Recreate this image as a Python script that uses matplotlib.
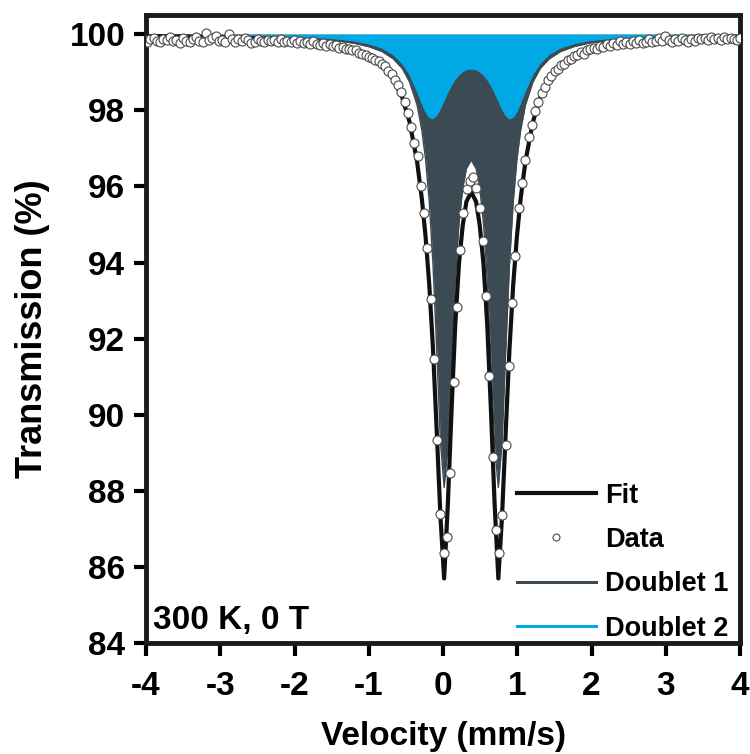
import numpy as np
import matplotlib
matplotlib.use("Agg")
import matplotlib.pyplot as plt
from matplotlib.lines import Line2D

plt.rcParams["font.family"] = ["Liberation Sans", "DejaVu Sans"]
plt.rcParams["axes.unicode_minus"] = False

# measured spectrum: channel velocity calibration and transmission per channel
V_START = -4.029
V_STEP = 0.0439
DATA_T = [
    99.88, 99.80, 99.86, 99.91, 99.83, 99.78, 99.87, 99.84, 99.92, 99.81,
    99.85, 99.77, 99.89, 99.83, 99.80, 99.86, 99.93, 99.82, 99.79, 100.02,
    99.84, 99.90, 99.95, 99.81, 99.85, 99.78, 99.99, 99.88, 99.80, 99.86,
    99.82, 99.89, 99.84, 99.76, 99.80, 99.87, 99.83, 99.79, 99.85, 99.81,
    99.84, 99.80, 99.88, 99.78, 99.83, 99.79, 99.85, 99.77, 99.82, 99.76,
    99.78, 99.74, 99.81, 99.75, 99.72, 99.77, 99.70, 99.73, 99.68, 99.71,
    99.64, 99.67, 99.60, 99.62, 99.57, 99.58, 99.50, 99.48, 99.44, 99.40,
    99.36, 99.33, 99.29, 99.22, 99.15, 99.04, 98.95, 98.80, 98.66, 98.47,
    98.22, 97.93, 97.55, 97.15,
    96.81, 96.02, 95.31, 94.37, 93.04, 91.46, 89.33, 87.39, 86.38, 86.78,
    88.47, 90.87, 92.83, 94.33, 95.30, 95.93, 96.13, 96.24, 95.96, 95.43,
    94.57, 93.13, 91.03, 88.89, 86.97, 86.37, 87.37, 89.21, 91.29, 92.93,
    94.18, 95.43, 96.10, 96.68,
    97.30, 97.62, 97.98, 98.21, 98.45, 98.62, 98.80, 98.90, 99.02, 99.08,
    99.19, 99.22, 99.32, 99.35, 99.43, 99.44, 99.52, 99.49, 99.58, 99.61,
    99.64, 99.60, 99.70, 99.66, 99.73, 99.69, 99.76, 99.72, 99.82, 99.75,
    99.79, 99.73, 99.81, 99.77, 99.84, 99.76, 99.80, 99.86, 99.78, 99.83,
    99.89, 99.81, 99.96, 99.84, 99.79, 99.87, 99.82, 99.90, 99.85, 99.80,
    99.88, 99.83, 99.91, 99.86, 99.89, 99.84, 99.92, 99.87, 99.90, 99.85,
    99.93, 99.88, 99.91, 99.86, 99.84, 99.89,
]

# fitted curves
CURVE_V = [
    -4.0, -3.25, -2.65, -2.15, -1.75, -1.45, -1.2, -1.0, -0.82, -0.67,
    -0.55, -0.45, -0.35, -0.285, -0.235, -0.185, -0.135, -0.085, -0.035, 0.015,
    0.065, 0.115, 0.165, 0.215, 0.265, 0.315, 0.38, 0.445, 0.495, 0.545,
    0.595, 0.645, 0.695, 0.745, 0.795, 0.845, 0.895, 0.945, 0.995, 1.045,
    1.11, 1.21, 1.31, 1.43, 1.58, 1.76, 1.96, 2.21, 2.51, 2.91,
    3.41, 4.01,
]
DOUBLET1_T = [
    99.97, 99.96, 99.94, 99.92, 99.88, 99.83, 99.76, 99.67, 99.54, 99.35,
    99.10, 98.74, 98.14, 97.47, 96.71, 95.59, 93.95, 91.71, 89.29, 88.09,
    89.16, 91.46, 93.56, 95.03, 95.95, 96.47, 96.69, 96.47, 95.95, 95.03,
    93.56, 91.46, 89.16, 88.09, 89.29, 91.71, 93.95, 95.59, 96.71, 97.47,
    98.14, 98.74, 99.10, 99.35, 99.54, 99.67, 99.76, 99.83, 99.88, 99.92,
    99.94, 99.96,
]
DOUBLET2_T = [
    99.98, 99.97, 99.96, 99.94, 99.92, 99.88, 99.83, 99.75, 99.64, 99.47,
    99.24, 98.95, 98.52, 98.20, 97.97, 97.82, 97.78, 97.87, 98.05, 98.27,
    98.48, 98.67, 98.82, 98.94, 99.02, 99.07, 99.09, 99.07, 99.02, 98.94,
    98.82, 98.67, 98.48, 98.27, 98.05, 97.87, 97.78, 97.82, 97.97, 98.20,
    98.52, 98.95, 99.24, 99.47, 99.64, 99.75, 99.83, 99.88, 99.92, 99.94,
    99.96, 99.97,
]
FIT_T = [
    99.95, 99.93, 99.90, 99.86, 99.79, 99.71, 99.59, 99.42, 99.18, 98.82,
    98.34, 97.69, 96.66, 95.67, 94.68, 93.41, 91.73, 89.58, 87.34, 85.70,
    87.65, 90.13, 92.38, 93.97, 94.97, 95.60, 95.85, 95.60, 94.97, 93.97,
    92.38, 90.13, 87.65, 85.70, 87.34, 89.58, 91.73, 93.41, 94.68, 95.67,
    96.66, 97.69, 98.34, 98.82, 99.18, 99.42, 99.59, 99.71, 99.79, 99.86,
    99.90, 99.93,
]

COLOR_D1 = "#3c4a54"
COLOR_D2 = "#00a9e6"


def main() -> None:
    velocity = V_START + V_STEP * np.arange(len(DATA_T))
    cv = np.array(CURVE_V)

    fig = plt.figure(figsize=(7.5, 7.54), dpi=100)
    ax = fig.add_axes([0.1947, 0.147, 0.792, 0.833])

    ax.fill_between(cv, DOUBLET1_T, 100, color=COLOR_D1, lw=0, zorder=1)
    ax.plot(cv, DOUBLET1_T, color=COLOR_D1, lw=1.0, zorder=1)
    ax.fill_between(cv, DOUBLET2_T, 100, color=COLOR_D2, lw=0, zorder=2)
    ax.plot(cv, DOUBLET2_T, color=COLOR_D2, lw=1.0, zorder=2)
    ax.plot(cv, FIT_T, color="#111111", lw=3.0, zorder=3)
    ax.plot(velocity, DATA_T, "o", ms=6.5, mfc="white", mec="#4a4a4a", mew=0.8,
            zorder=4)

    ax.set_xlim(-4, 4)
    ax.set_ylim(84, 100.5)
    ax.set_xticks(range(-4, 5))
    ax.set_yticks(range(84, 101, 2))
    ax.tick_params(direction="out", length=9, width=3, labelsize=24)
    ax.tick_params(axis="x", pad=11)
    ax.tick_params(axis="y", pad=6)
    for lab in ax.get_xticklabels() + ax.get_yticklabels():
        lab.set_fontweight("bold")
    for sp in ax.spines.values():
        sp.set_linewidth(3.5)
        sp.set_color("#1a1a1a")

    ax.set_xlabel("Velocity (mm/s)", fontsize=24, fontweight="bold", labelpad=14)
    ax.set_ylabel("Transmission (%)", fontsize=26, fontweight="bold", labelpad=14)

    ax.text(0.012, 0.012, "300 K, 0 T", transform=ax.transAxes,
            fontsize=24, fontweight="bold", ha="left", va="bottom")

    handles = [
        Line2D([], [], color="#111111", lw=3.0),
        Line2D([], [], ls="none", marker="o", ms=5, mfc="white",
               mec="#4a4a4a", mew=0.8),
        Line2D([], [], color=COLOR_D1, lw=2.2),
        Line2D([], [], color=COLOR_D2, lw=2.2),
    ]
    labels = ["Fit", "Data", "Doublet 1", "Doublet 2"]
    leg = ax.legend(handles, labels, loc="lower right", frameon=False,
                    bbox_to_anchor=(0.983, 0.0),
                    prop={"size": 19.5, "weight": "bold"},
                    handlelength=2.9, handletextpad=0.35, labelspacing=0.68,
                    borderaxespad=0.0, borderpad=0.05)
    leg.set_zorder(5)

    fig.savefig("out.png", dpi=100)


if __name__ == "__main__":
    main()
